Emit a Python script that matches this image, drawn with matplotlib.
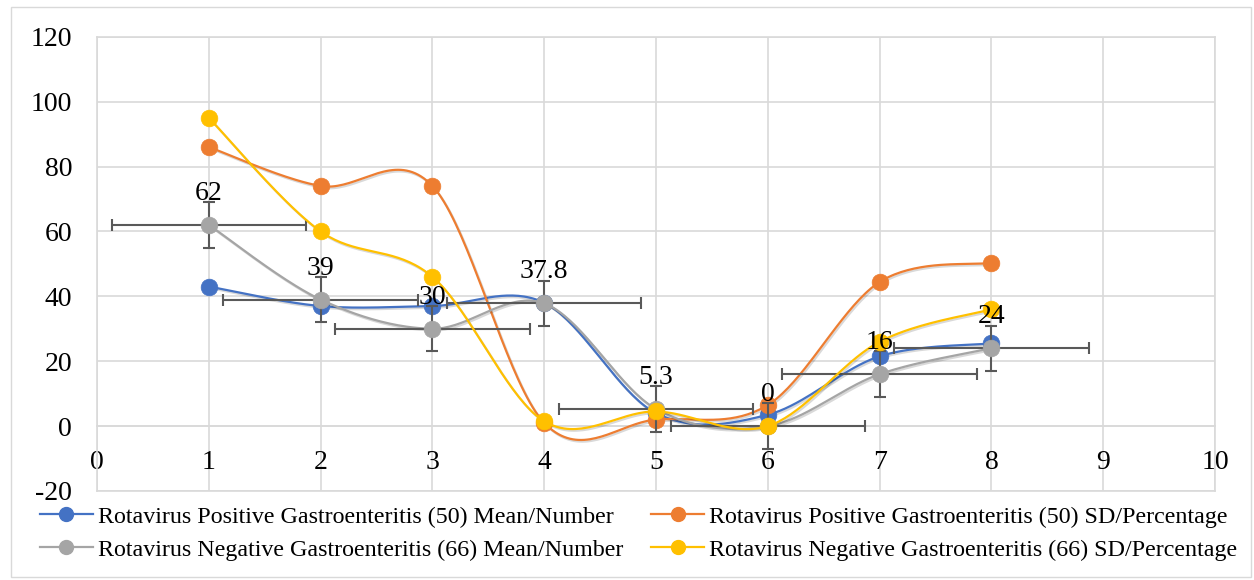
import numpy as np
import matplotlib
matplotlib.use("Agg")
import matplotlib.pyplot as plt
import matplotlib.patheffects as pe
from matplotlib.patches import Rectangle
from matplotlib.lines import Line2D

plt.rcParams['font.family'] = ['Liberation Serif', 'DejaVu Serif']
plt.rcParams['axes.unicode_minus'] = False

# ---- data ----
x_vals = [1, 2, 3, 4, 5, 6, 7, 8]
pos_mean = [43, 37, 37, 38, 4, 3.5, 21.5, 25.5]
pos_sd = [86, 74, 74, 1, 2, 6.5, 44.4, 50.3]
neg_mean = [62, 39, 30, 37.8, 5.3, 0, 16, 24]
neg_sd = [95, 60, 46, 1.5, 4.5, 0, 26, 36]
neg_mean_labels = ["62", "39", "30", "37.8", "5.3", "0", "16", "24"]
neg_mean_xerr = 0.87
neg_mean_yerr = 7

series_names = [
    "Rotavirus Positive Gastroenteritis (50) Mean/Number",
    "Rotavirus Positive Gastroenteritis (50) SD/Percentage",
    "Rotavirus Negative Gastroenteritis (66) Mean/Number",
    "Rotavirus Negative Gastroenteritis (66) SD/Percentage",
]
colors = ["#4472C4", "#ED7D31", "#A5A5A5", "#FFC000"]
x_ticks = list(range(0, 11))
y_ticks = list(range(-20, 121, 20))

W, H = 1254, 580
fig = plt.figure(figsize=(W / 100, H / 100), dpi=100)
fig.patches.append(Rectangle((11 / W, 1 - 577 / H), (1251 - 11) / W, (577 - 7) / H,
                             transform=fig.transFigure, fill=False,
                             edgecolor="#D9D9D9", linewidth=1.0))

L, R, T, B = 97, 1215, 36.7, 491
ax = fig.add_axes([L / W, 1 - B / H, (R - L) / W, (B - T) / H])
ax.set_xlim(0, 10)
ax.set_ylim(-20, 120)
ax.set_xticks(x_ticks)
ax.set_yticks(y_ticks)
ax.grid(True, color="#D9D9D9", linewidth=1.2)
ax.set_axisbelow(True)
for s in ["top", "right", "left"]:
    ax.spines[s].set_color("#D9D9D9")
    ax.spines[s].set_linewidth(1.2)
ax.spines["bottom"].set_position(("data", 0))
ax.spines["bottom"].set_color("#D9D9D9")
ax.spines["bottom"].set_linewidth(1.2)
ax.axhline(-20, color="#D9D9D9", linewidth=1.2, clip_on=False, zorder=0.5)
ax.tick_params(axis="both", length=0, labelsize=20)
ax.tick_params(axis="x", pad=17)
ax.tick_params(axis="y", pad=18)


def smooth(xs, ys, n=40):
    P = ax.transData.transform(np.column_stack([xs, ys]))
    segs = []
    for i in range(len(P) - 1):
        p0 = P[i - 1] if i > 0 else P[i]
        p1, p2 = P[i], P[i + 1]
        p3 = P[i + 2] if i + 2 < len(P) else P[i + 1]
        c1 = p1 + (p2 - p0) / 6.0
        c2 = p2 - (p3 - p1) / 6.0
        t = np.linspace(0, 1, n)[:, None]
        seg = (1 - t) ** 3 * p1 + 3 * (1 - t) ** 2 * t * c1 + 3 * (1 - t) * t ** 2 * c2 + t ** 3 * p2
        segs.append(seg if i == 0 else seg[1:])
    D = np.vstack(segs)
    return ax.transData.inverted().transform(D)


line_shadow = [pe.SimpleLineShadow(offset=(1, -1.2), alpha=0.15), pe.Normal()]

all_series = [pos_mean, pos_sd, neg_mean, neg_sd]
z = 2
for idx, (ys, c) in enumerate(zip(all_series, colors)):
    sm = smooth(x_vals, ys)
    ax.plot(sm[:, 0], sm[:, 1], color=c, linewidth=1.6, zorder=z, path_effects=line_shadow)
    if idx == 2:
        ax.errorbar(x_vals, ys, xerr=neg_mean_xerr, yerr=neg_mean_yerr, fmt="none",
                    ecolor="#595959", elinewidth=1.5, capsize=4.3, capthick=1.5, zorder=z + 0.5)
    ax.plot(x_vals, ys, linestyle="none", marker="o", markersize=12,
            markerfacecolor=c, markeredgecolor=c, markeredgewidth=0.5,
            zorder=z + 0.8)
    z += 1

for xv, yv, lab in zip(x_vals, neg_mean, neg_mean_labels):
    ax.annotate(lab, (xv, yv), xytext=(0, 18), textcoords="offset points",
                ha="center", va="baseline", fontsize=20, zorder=20)

handles = [Line2D([0], [0], color=c, linewidth=1.6, marker="o", markersize=10,
                  markerfacecolor=c, markeredgecolor=c) for c in colors]
order = [0, 2, 1, 3]
fig.legend([handles[i] for i in order], [series_names[i] for i in order],
           ncol=2, loc="upper left",
           bbox_to_anchor=(40 / W, 1 - 506 / H), frameon=False, fontsize=17.3,
           handlelength=2.2, handletextpad=0.2, columnspacing=1.17,
           labelspacing=0.46, borderpad=0, borderaxespad=0)

fig.savefig("out.png", dpi=100)
